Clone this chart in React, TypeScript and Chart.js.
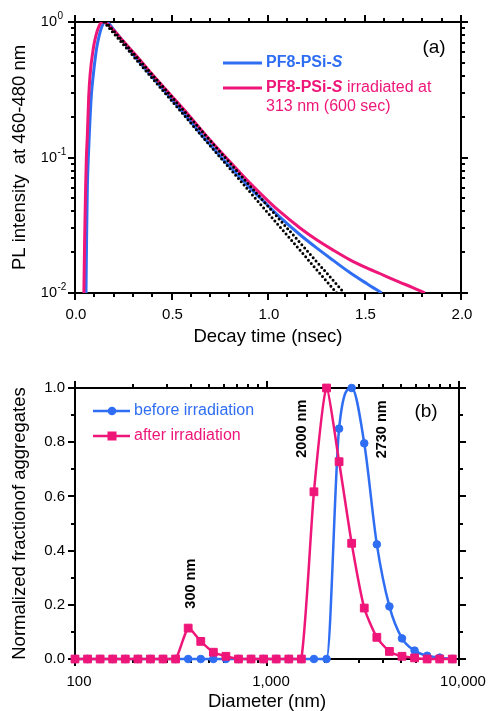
import React, { useEffect, useRef } from 'react';
import { Chart, registerables } from 'chart.js';
Chart.register(...registerables);

const FONT = '"Liberation Sans", Arial, Helvetica, sans-serif';
const BLUE = '#2f6ef3';
const PINK = '#ee1679';

// ---------- Panel (a): PL decay ----------
const blueTime = [0.057, 0.06, 0.064, 0.069, 0.074, 0.084, 0.095, 0.112, 0.126, 0.14, 0.155, 0.175, 0.2, 0.25, 0.319, 0.4, 0.48, 0.561, 0.68, 0.803, 0.9, 1.0, 1.062, 1.166, 1.25, 1.338, 1.42, 1.511, 1.589];
const blueIntensity = [0.01, 0.025, 0.06, 0.1, 0.146, 0.28, 0.41, 0.64, 0.8, 0.93, 1.0, 0.975, 0.88, 0.716, 0.537, 0.394, 0.292, 0.214, 0.134, 0.0853, 0.061, 0.0442, 0.0363, 0.0269, 0.0216, 0.0174, 0.0143, 0.01175, 0.01];
const pinkTime = [0.046, 0.05, 0.055, 0.059, 0.064, 0.071, 0.078, 0.095, 0.109, 0.124, 0.142, 0.165, 0.2, 0.25, 0.319, 0.4, 0.48, 0.561, 0.68, 0.803, 0.9, 1.0, 1.062, 1.166, 1.25, 1.338, 1.42, 1.511, 1.6, 1.684, 1.75, 1.813];
const pinkIntensity = [0.01, 0.025, 0.06, 0.1, 0.146, 0.28, 0.406, 0.64, 0.8, 0.93, 1.0, 0.975, 0.871, 0.724, 0.562, 0.412, 0.307, 0.229, 0.145, 0.0929, 0.0661, 0.0479, 0.0398, 0.0302, 0.0248, 0.0207, 0.0177, 0.0153, 0.0135, 0.012, 0.01096, 0.01];
const fitATime = [0.15, 1.356];
const fitAIntensity = [1.0, 0.01];
const fitBTime = [0.16, 1.395];
const fitBIntensity = [1.0, 0.01];
const decayTicks = [0, 0.5, 1, 1.5, 2];
const intensityTicks = [1, 0.1, 0.01];
const intensityExponents = ['0', '-1', '-2'];

// ---------- Panel (b): size distribution ----------
const diameters = [100, 116.3, 135.2, 157.2, 182.8, 212.6, 247.2, 287.4, 334.2, 388.6, 451.9, 525.5, 611, 710.5, 826, 960.6, 1117, 1299, 1510, 1756, 2042, 2374, 2761, 3210, 3733, 4341, 5048, 5869, 6825, 7936, 9228];
const beforeFraction = [0, 0, 0, 0, 0, 0, 0, 0, 0, 0, 0, 0, 0, 0, 0, 0, 0, 0, 0, 0, 0, 0.85, 1.0, 0.796, 0.423, 0.194, 0.076, 0.031, 0.012, 0.005, 0];
const afterFraction = [0, 0, 0, 0, 0, 0, 0, 0, 0, 0.114, 0.065, 0.025, 0.01, 0, 0, 0, 0, 0, 0, 0.617, 1.0, 0.728, 0.427, 0.188, 0.08, 0.028, 0.01, 0.004, 0, 0, 0];
const diameterTicks = [100, 1000, 10000];
const diameterTickLabels = ['100', '1,000', '10,000'];
const fractionTicks = [0, 0.2, 0.4, 0.6, 0.8, 1.0];

const zip = (xs: number[], ys: number[]) => xs.map((x, i) => ({ x, y: ys[i] }));

function logMinors(lo: number, hi: number) {
  const out: number[] = [];
  for (let d = lo; d < hi; d *= 10) for (let m = 2; m <= 9; m++) out.push(d * m);
  return out;
}
function linMinors(lo: number, hi: number, step: number, majorStep: number) {
  const out: number[] = [];
  const n = Math.round((hi - lo) / step);
  for (let i = 0; i <= n; i++) {
    const v = lo + i * step;
    const r = (v - lo) / majorStep;
    if (Math.abs(r - Math.round(r)) > 1e-6) out.push(v);
  }
  return out;
}

function drawFrame(chart: any, xMaj: number[], xMin: number[], yMaj: number[], yMin: number[]) {
  const { ctx, chartArea: a } = chart;
  const sx = chart.scales.x;
  const sy = chart.scales.y;
  ctx.save();
  ctx.strokeStyle = '#000';
  ctx.lineWidth = 2;
  ctx.lineCap = 'square';
  ctx.strokeRect(a.left, a.top, a.right - a.left, a.bottom - a.top);
  ctx.lineCap = 'butt';
  ctx.beginPath();
  const xt = (vals: number[], len: number) => {
    for (const v of vals) {
      const p = Math.round(sx.getPixelForValue(v));
      ctx.moveTo(p, a.bottom); ctx.lineTo(p, a.bottom + len);
      ctx.moveTo(p, a.top); ctx.lineTo(p, a.top - len);
    }
  };
  const yt = (vals: number[], len: number) => {
    for (const v of vals) {
      const p = Math.round(sy.getPixelForValue(v));
      ctx.moveTo(a.left, p); ctx.lineTo(a.left - len, p);
      ctx.moveTo(a.right, p); ctx.lineTo(a.right + len, p);
    }
  };
  xt(xMaj, 7); xt(xMin, 4); yt(yMaj, 7); yt(yMin, 4);
  ctx.stroke();
  ctx.restore();
}

function textRuns(ctx: CanvasRenderingContext2D, x: number, y: number, parts: [string, string][], color: string) {
  ctx.fillStyle = color;
  ctx.textBaseline = 'middle';
  ctx.textAlign = 'left';
  for (const [font, txt] of parts) {
    ctx.font = font;
    ctx.fillText(txt, x, y);
    x += ctx.measureText(txt).width;
  }
}

const panelAPlugin = {
  id: 'panelA',
  beforeDatasetsDraw(chart: any) {
    drawFrame(chart, decayTicks, linMinors(0, 2, 0.1, 0.5), intensityTicks, logMinors(0.01, 1));
  },
  afterDraw(chart: any) {
    const ctx: CanvasRenderingContext2D = chart.ctx;
    const sy = chart.scales.y;
    ctx.save();
    // y tick labels 10^n
    intensityTicks.forEach((v, i) => {
      const p = sy.getPixelForValue(v);
      ctx.fillStyle = '#000';
      ctx.textBaseline = 'middle';
      ctx.textAlign = 'right';
      ctx.font = `14.5px ${FONT}`;
      ctx.fillText('10', 57, p);
      ctx.textAlign = 'left';
      ctx.font = `10px ${FONT}`;
      ctx.fillText(intensityExponents[i], 57.5, p - 5.5);
    });
    // legend
    ctx.lineWidth = 3;
    ctx.strokeStyle = BLUE;
    ctx.beginPath(); ctx.moveTo(223, 63); ctx.lineTo(262, 63); ctx.stroke();
    ctx.strokeStyle = PINK;
    ctx.beginPath(); ctx.moveTo(223, 88); ctx.lineTo(262, 88); ctx.stroke();
    textRuns(ctx, 266, 63, [[`bold 16px ${FONT}`, 'PF8-PSi-'], [`italic bold 16px ${FONT}`, 'S']], BLUE);
    textRuns(ctx, 266, 88, [[`bold 16px ${FONT}`, 'PF8-PSi-'], [`italic bold 16px ${FONT}`, 'S'], [`16px ${FONT}`, ' irradiated at']], PINK);
    textRuns(ctx, 266, 107, [[`16px ${FONT}`, '313 nm (600 sec)']], PINK);
    // panel label
    ctx.fillStyle = '#000';
    ctx.textAlign = 'center';
    ctx.textBaseline = 'middle';
    ctx.font = `19px ${FONT}`;
    ctx.fillText('(a)', 434, 48);
    ctx.restore();
  },
};

const panelBPlugin = {
  id: 'panelB',
  beforeDatasetsDraw(chart: any) {
    drawFrame(chart, diameterTicks, logMinors(100, 10000), fractionTicks, linMinors(0, 1, 0.1, 0.2));
  },
  afterDraw(chart: any) {
    const ctx: CanvasRenderingContext2D = chart.ctx;
    ctx.save();
    // legend
    ctx.lineWidth = 2.5;
    ctx.strokeStyle = BLUE;
    ctx.beginPath(); ctx.moveTo(93, 61); ctx.lineTo(130, 61); ctx.stroke();
    ctx.fillStyle = BLUE;
    ctx.beginPath(); ctx.arc(112, 61, 4.3, 0, Math.PI * 2); ctx.fill();
    ctx.strokeStyle = PINK;
    ctx.beginPath(); ctx.moveTo(93, 86); ctx.lineTo(130, 86); ctx.stroke();
    ctx.fillStyle = PINK;
    ctx.fillRect(107.5, 81.5, 9, 9);
    textRuns(ctx, 134, 61, [[`16px ${FONT}`, 'before irradiation']], BLUE);
    textRuns(ctx, 134, 86, [[`16px ${FONT}`, 'after irradiation']], PINK);
    ctx.fillStyle = '#000';
    ctx.textAlign = 'center';
    ctx.textBaseline = 'middle';
    ctx.font = `19px ${FONT}`;
    ctx.fillText('(b)', 426, 62);
    // rotated annotations
    const rot = (txt: string, x: number, y: number) => {
      ctx.save();
      ctx.translate(x, y);
      ctx.rotate(-Math.PI / 2);
      ctx.font = `bold 14.5px ${FONT}`;
      ctx.fillStyle = '#000';
      ctx.textAlign = 'center';
      ctx.textBaseline = 'middle';
      ctx.fillText(txt, 0, 0);
      ctx.restore();
    };
    rot('2000 nm', 301.7, 78.7);
    rot('2730 nm', 381.7, 79.3);
    rot('300 nm', 190.7, 233.7);
    ctx.restore();
  },
};

const axisFont = { family: FONT, size: 15 };
const titleFont = { family: FONT, size: 18.5 };

function makeA(canvas: HTMLCanvasElement) {
  return new Chart(canvas, {
    type: 'line',
    data: {
      datasets: [
        { data: zip(fitATime, fitAIntensity), borderColor: '#000', borderWidth: 3, borderDash: [0, 4.3], borderCapStyle: 'round', pointRadius: 0, tension: 0 },
        { data: zip(fitBTime, fitBIntensity), borderColor: '#000', borderWidth: 3, borderDash: [0, 4.3], borderCapStyle: 'round', pointRadius: 0, tension: 0 },
        { data: zip(pinkTime, pinkIntensity), borderColor: PINK, borderWidth: 3, pointRadius: 0, cubicInterpolationMode: 'monotone' },
        { data: zip(blueTime, blueIntensity), borderColor: BLUE, borderWidth: 3, pointRadius: 0, cubicInterpolationMode: 'monotone' },
      ],
    } as any,
    options: {
      responsive: false,
      animation: false,
      devicePixelRatio: 1,
      events: [],
      layout: { padding: { left: 0, right: 28, top: 22, bottom: 0 } },
      plugins: { legend: { display: false }, tooltip: { enabled: false } },
      scales: {
        x: {
          type: 'linear', min: 0, max: 2,
          grid: { display: false, drawTicks: false },
          border: { display: false },
          afterBuildTicks: (s: any) => { s.ticks = decayTicks.map((v) => ({ value: v })); },
          ticks: { callback: (v: any) => Number(v).toFixed(1), font: axisFont, color: '#000', padding: 13, maxRotation: 0, autoSkip: false, labelOffset: 1 },
          title: { display: true, text: 'Decay time (nsec)', font: titleFont, color: '#000', padding: { top: 0, bottom: 1.5 } },
          afterFit: (s: any) => { s.height = 57; s.paddingLeft = 0; s.paddingRight = 0; },
        },
        y: {
          type: 'logarithmic', min: 0.01, max: 1,
          grid: { display: false, drawTicks: false },
          border: { display: false },
          ticks: { display: false },
          title: { display: true, text: 'PL intensity  at 460-480 nm', font: titleFont, color: '#000', padding: { top: 9, bottom: 0 } },
          afterFit: (s: any) => { s.width = 75; s.paddingTop = 0; s.paddingBottom = 0; },
        },
      },
    } as any,
    plugins: [panelAPlugin],
  });
}

function makeB(canvas: HTMLCanvasElement) {
  return new Chart(canvas, {
    type: 'line',
    data: {
      datasets: [
        { data: zip(diameters, afterFraction), borderColor: PINK, backgroundColor: PINK, borderWidth: 2.5, pointStyle: 'rect', pointRadius: 5.5, pointBorderWidth: 1, pointBorderColor: PINK, pointBackgroundColor: PINK, tension: 0.2, clip: false },
        { data: zip(diameters, beforeFraction), borderColor: BLUE, backgroundColor: BLUE, borderWidth: 2.5, pointStyle: 'circle', pointRadius: 3.8, pointBorderWidth: 1, pointBorderColor: BLUE, pointBackgroundColor: BLUE, cubicInterpolationMode: 'monotone', clip: false },
      ],
    } as any,
    options: {
      responsive: false,
      animation: false,
      devicePixelRatio: 1,
      events: [],
      layout: { padding: { left: 0, right: 30, top: 38, bottom: 0 } },
      plugins: { legend: { display: false }, tooltip: { enabled: false } },
      scales: {
        x: {
          type: 'logarithmic', min: 100, max: 10000,
          grid: { display: false, drawTicks: false },
          border: { display: false },
          afterBuildTicks: (s: any) => { s.ticks = diameterTicks.map((v) => ({ value: v })); },
          ticks: { callback: (_v: any, i: number) => diameterTickLabels[i], font: axisFont, color: '#000', padding: 13.7, maxRotation: 0, autoSkip: false, labelOffset: 4 },
          title: { display: true, text: 'Diameter (nm)', font: titleFont, color: '#000', padding: { top: 0, bottom: -1.8 } },
          afterFit: (s: any) => { s.height = 52; s.paddingLeft = 0; s.paddingRight = 0; },
        },
        y: {
          type: 'linear', min: 0, max: 1,
          grid: { display: false, drawTicks: false },
          border: { display: false },
          afterBuildTicks: (s: any) => { s.ticks = fractionTicks.map((v) => ({ value: v })); },
          ticks: { callback: (v: any) => Number(v).toFixed(1), font: axisFont, color: '#000', padding: 10, autoSkip: false },
          title: { display: true, text: 'Normalized fractionof aggregates', font: titleFont, color: '#000', padding: { top: 9, bottom: 0 } },
          afterFit: (s: any) => { s.width = 75; s.paddingTop = 0; s.paddingBottom = 0; },
        },
      },
    } as any,
    plugins: [panelBPlugin],
  });
}

export default function App() {
  const refA = useRef<HTMLCanvasElement>(null);
  const refB = useRef<HTMLCanvasElement>(null);
  useEffect(() => {
    const a = makeA(refA.current!);
    const b = makeB(refB.current!);
    return () => { a.destroy(); b.destroy(); };
  }, []);
  return (
    <div style={{ position: 'absolute', left: 0, top: 0, width: 489, height: 711, background: '#fff' }}>
      <canvas ref={refA} width={489} height={350} style={{ position: 'absolute', left: 0, top: 0 }} />
      <canvas ref={refB} width={489} height={361} style={{ position: 'absolute', left: 0, top: 350 }} />
    </div>
  );
}
